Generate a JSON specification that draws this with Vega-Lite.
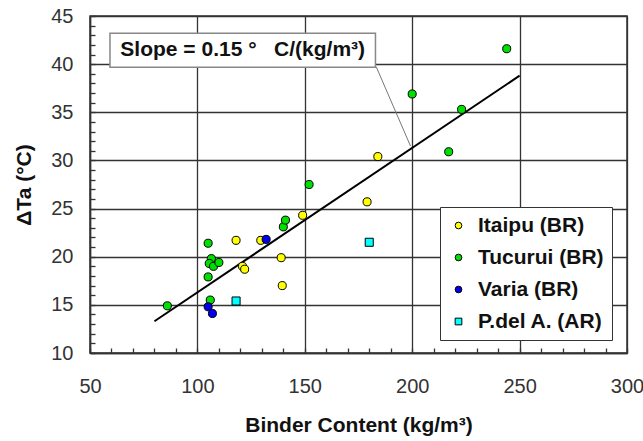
{
  "$schema": "https://vega.github.io/schema/vega-lite/v6.json",
  "width": 537,
  "height": 337,
  "autosize": "none",
  "padding": {"left": 90, "top": 16, "right": 16, "bottom": 88},
  "background": "white",
  "config": {
    "font": "Liberation Sans",
    "view": {"stroke": "#333", "strokeWidth": 1.5},
    "axis": {
      "domainColor": "#333",
      "domainWidth": 1.5,
      "tickCount": 1000,
      "format": "d",
      "labelFont": "Liberation Sans",
      "labelFontSize": 20,
      "labelColor": "#333",
      "labelFlush": false,
      "labelOverlap": false,
      "labelBound": false,
      "titleFont": "Liberation Sans",
      "titleFontSize": 21,
      "titleFontWeight": "bold",
      "titleColor": "#111"
    },
    "legend": {
      "labelFont": "Liberation Sans",
      "labelFontSize": 21,
      "labelFontWeight": "bold",
      "labelColor": "#111",
      "symbolSize": 45,
      "symbolStrokeColor": "black",
      "symbolStrokeWidth": 1,
      "rowPadding": 10,
      "padding": 8,
      "labelOffset": 9,
      "strokeColor": "#333",
      "fillColor": "white"
    }
  },
  "datasets": {
    "points": [
      {"binder": 118, "dta": 21.7, "site": "Itaipu (BR)"},
      {"binder": 129.5, "dta": 21.7, "site": "Itaipu (BR)"},
      {"binder": 139, "dta": 19.9, "site": "Itaipu (BR)"},
      {"binder": 139.5, "dta": 17.0, "site": "Itaipu (BR)"},
      {"binder": 121, "dta": 19.0, "site": "Itaipu (BR)"},
      {"binder": 122, "dta": 18.7, "site": "Itaipu (BR)"},
      {"binder": 149, "dta": 24.3, "site": "Itaipu (BR)"},
      {"binder": 179, "dta": 25.7, "site": "Itaipu (BR)"},
      {"binder": 184, "dta": 30.4, "site": "Itaipu (BR)"},
      {"binder": 86, "dta": 14.9, "site": "Tucurui (BR)"},
      {"binder": 105, "dta": 21.4, "site": "Tucurui (BR)"},
      {"binder": 106.5, "dta": 19.8, "site": "Tucurui (BR)"},
      {"binder": 105.5, "dta": 19.3, "site": "Tucurui (BR)"},
      {"binder": 107.5, "dta": 19.0, "site": "Tucurui (BR)"},
      {"binder": 110, "dta": 19.4, "site": "Tucurui (BR)"},
      {"binder": 105, "dta": 17.9, "site": "Tucurui (BR)"},
      {"binder": 106, "dta": 15.5, "site": "Tucurui (BR)"},
      {"binder": 140, "dta": 23.1, "site": "Tucurui (BR)"},
      {"binder": 141, "dta": 23.8, "site": "Tucurui (BR)"},
      {"binder": 152, "dta": 27.5, "site": "Tucurui (BR)"},
      {"binder": 200, "dta": 36.9, "site": "Tucurui (BR)"},
      {"binder": 217, "dta": 30.9, "site": "Tucurui (BR)"},
      {"binder": 223, "dta": 35.3, "site": "Tucurui (BR)"},
      {"binder": 244, "dta": 41.6, "site": "Tucurui (BR)"},
      {"binder": 105, "dta": 14.8, "site": "Varia (BR)"},
      {"binder": 107, "dta": 14.1, "site": "Varia (BR)"},
      {"binder": 132, "dta": 21.8, "site": "Varia (BR)"},
      {"binder": 118, "dta": 15.4, "site": "P.del A. (AR)"},
      {"binder": 180, "dta": 21.5, "site": "P.del A. (AR)"}
    ],
    "fit": [
      {"binder": 80, "dta": 13.3},
      {"binder": 250, "dta": 38.8}
    ],
    "note": [
      {"text": "Slope = 0.15 °\u00a0\u00a0\u00a0C/(kg/m³)"}
    ]
  },
  "layer": [
    {
      "data": {"name": "fit"},
      "mark": {"type": "line", "color": "black", "strokeWidth": 2},
      "encoding": {
        "x": {
          "field": "binder",
          "type": "quantitative",
          "scale": {"domain": [50, 300], "nice": false, "zero": false},
          "axis": {
            "values": [50, 60, 70, 80, 90, 100, 110, 120, 130, 140, 150, 160, 170, 180, 190, 200, 210, 220, 230, 240, 250, 260, 270, 280, 290, 300],
            "labelExpr": "datum.value % 50 === 0 ? datum.label : ''",
            "grid": true,
            "gridColor": "#333",
            "gridOpacity": {"condition": {"test": "datum.value % 50 === 0", "value": 1}, "value": 0},
            "gridWidth": 1.3,
            "ticks": true,
            "tickColor": "#333",
            "tickOpacity": 1,
            "tickSize": -5,
            "tickWidth": 1.3,
            "labelPadding": 28,
            "titlePadding": 18,
            "title": "Binder Content (kg/m³)"
          }
        },
        "y": {
          "field": "dta",
          "type": "quantitative",
          "scale": {"domain": [10, 45], "nice": false, "zero": false},
          "axis": {
            "values": [10, 11, 12, 13, 14, 15, 16, 17, 18, 19, 20, 21, 22, 23, 24, 25, 26, 27, 28, 29, 30, 31, 32, 33, 34, 35, 36, 37, 38, 39, 40, 41, 42, 43, 44, 45],
            "labelExpr": "datum.value % 5 === 0 ? datum.label : ''",
            "grid": true,
            "gridColor": "#333",
            "gridOpacity": {"condition": {"test": "datum.value % 5 === 0", "value": 1}, "value": 0},
            "gridWidth": 1.3,
            "ticks": true,
            "tickColor": "#333",
            "tickOpacity": 1,
            "tickSize": -5,
            "tickWidth": 1.3,
            "labelPadding": 22,
            "titlePadding": 16,
            "title": "ΔTa (°C)"
          }
        }
      }
    },
    {
      "data": {"name": "points"},
      "mark": {"type": "point", "filled": true, "stroke": "black", "strokeWidth": 1, "opacity": 1, "size": 65},
      "encoding": {
        "x": {"field": "binder", "type": "quantitative"},
        "y": {"field": "dta", "type": "quantitative"},
        "color": {
          "field": "site",
          "type": "nominal",
          "scale": {
            "domain": ["Itaipu (BR)", "Tucurui (BR)", "Varia (BR)", "P.del A. (AR)"],
            "range": ["#ffff00", "#00e000", "#0000ee", "#00ffff"]
          },
          "legend": {"orient": "none", "legendX": 350, "legendY": 191, "title": null}
        },
        "shape": {
          "field": "site",
          "type": "nominal",
          "scale": {
            "domain": ["Itaipu (BR)", "Tucurui (BR)", "Varia (BR)", "P.del A. (AR)"],
            "range": ["circle", "circle", "circle", "square"]
          },
          "legend": {"orient": "none", "legendX": 350, "legendY": 191, "title": null}
        }
      }
    },
    {
      "data": {"name": "note"},
      "mark": {"type": "rule", "color": "#777", "strokeWidth": 1},
      "encoding": {
        "x": {"datum": 183.3},
        "y": {"datum": 39.7},
        "x2": {"datum": 199.2},
        "y2": {"datum": 31.5}
      }
    },
    {
      "data": {"name": "note"},
      "mark": {"type": "rect", "fill": "white", "stroke": "#888", "strokeWidth": 1.5},
      "encoding": {
        "x": {"datum": 59.3},
        "x2": {"datum": 182.9},
        "y": {"datum": 43.2},
        "y2": {"datum": 39.67}
      }
    },
    {
      "data": {"name": "note"},
      "mark": {"type": "text", "font": "Liberation Sans", "fontSize": 21, "fontWeight": "bold", "color": "#111", "align": "center", "baseline": "middle"},
      "encoding": {
        "x": {"datum": 121.1},
        "y": {"datum": 41.46},
        "text": {"field": "text"}
      }
    }
  ]
}
